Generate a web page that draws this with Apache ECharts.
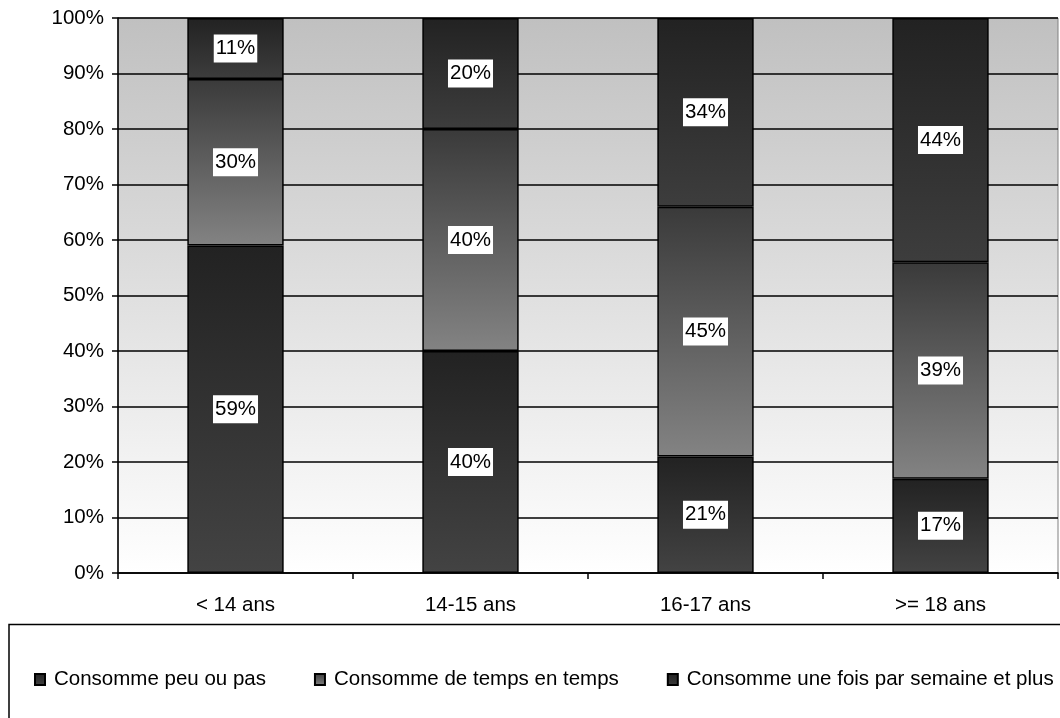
<!DOCTYPE html>
<html>
<head>
<meta charset="utf-8">
<style>
  html, body { margin: 0; padding: 0; background: #ffffff; }
  #chart { width: 1060px; height: 718px; }
</style>
<script src="https://cdn.jsdelivr.net/npm/echarts@6/dist/echarts.min.js"></script>
</head>
<body>
<div id="chart"></div>
<script>
// Age groups and the share (in %) of each consumption frequency
const categories = ['< 14 ans', '14-15 ans', '16-17 ans', '>= 18 ans'];
const seriesNames = [
  'Consomme peu ou pas',
  'Consomme de temps en temps',
  'Consomme une fois par semaine et plus'
];
const peuOuPas = [59, 40, 21, 17];
const tempsEnTemps = [30, 40, 45, 39];
const uneFoisParSemaine = [11, 20, 34, 44];
const yTicks = [0, 10, 20, 30, 40, 50, 60, 70, 80, 90, 100];

const FONT = "'Liberation Sans', Arial, sans-serif";
const FS = 20.5;

function vGrad(top, bottom) {
  return new echarts.graphic.LinearGradient(0, 0, 0, 1, [
    { offset: 0, color: top },
    { offset: 1, color: bottom }
  ]);
}

const fills = [
  vGrad('#222222', '#434343'),
  vGrad('#3a3a3a', '#838383'),
  vGrad('#222222', '#3d3d3d')
];

const label = {
  show: true,
  position: 'inside',
  formatter: '{c}%',
  color: '#000000',
  backgroundColor: '#ffffff',
  borderWidth: 0,
  textBorderWidth: 0,
  fontFamily: FONT,
  fontSize: FS,
  padding: [4, 2, 3, 2]
};

function barSeries(name, data, fill) {
  return {
    name: name,
    type: 'bar',
    stack: 'total',
    barWidth: '41%',
    data: data,
    itemStyle: { color: fill, borderColor: '#000000', borderWidth: 1.5 },
    label: label,
    emphasis: { disabled: true }
  };
}

const chart = echarts.init(document.getElementById('chart'), null, { renderer: 'canvas' });

chart.setOption({
  animation: false,
  backgroundColor: '#ffffff',
  grid: {
    left: 118, right: 2, top: 18, bottom: 145,
    show: true,
    backgroundColor: vGrad('#c0c0c0', '#ffffff'),
    borderColor: '#808080',
    borderWidth: 1
  },
  legend: {
    data: seriesNames,
    icon: 'rect',
    left: 29,
    top: 664,
    itemWidth: 10,
    itemHeight: 11,
    itemGap: 48,
    selectedMode: false,
    textStyle: { fontFamily: FONT, fontSize: FS, color: '#000000', padding: [0, 0, 0, 4] }
  },
  graphic: [{
    type: 'rect',
    shape: { x: 9, y: 624.5, width: 1060, height: 120 },
    style: { fill: 'none', stroke: '#000000', lineWidth: 1.5 },
    z: -1
  }],
  xAxis: {
    type: 'category',
    data: categories,
    boundaryGap: true,
    axisLine: { lineStyle: { color: '#000000', width: 1.5 } },
    axisTick: { show: true, length: 6, lineStyle: { color: '#000000', width: 1.5 } },
    axisLabel: { color: '#000000', fontFamily: FONT, fontSize: FS, margin: 22 },
    splitLine: { show: false }
  },
  yAxis: {
    type: 'value',
    min: yTicks[0],
    max: yTicks[yTicks.length - 1],
    interval: 10,
    axisLine: { show: true, lineStyle: { color: '#000000', width: 1.5 } },
    axisTick: { show: true, length: 6, lineStyle: { color: '#000000', width: 1.5 } },
    axisLabel: { color: '#000000', fontFamily: FONT, fontSize: FS, margin: 14, formatter: '{value}%' },
    splitLine: { show: true, lineStyle: { color: '#000000', width: 1.5 } }
  },
  series: [
    barSeries(seriesNames[0], peuOuPas, fills[0]),
    barSeries(seriesNames[1], tempsEnTemps, fills[1]),
    barSeries(seriesNames[2], uneFoisParSemaine, fills[2])
  ]
});
</script>
</body>
</html>
